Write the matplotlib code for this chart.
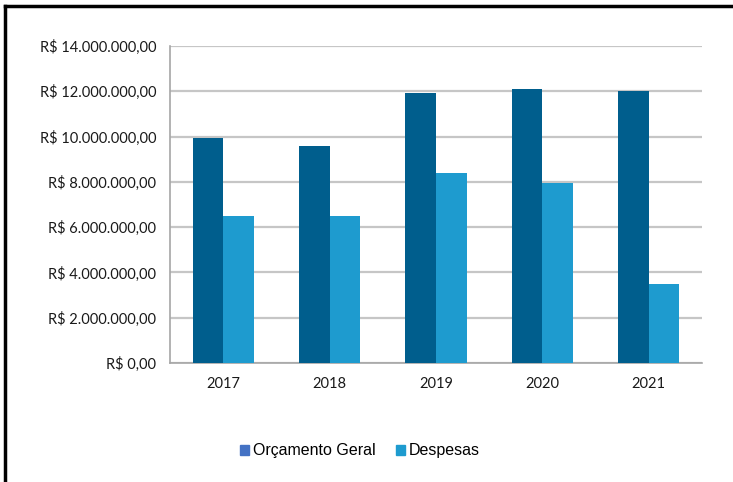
import matplotlib
matplotlib.use("Agg")
import matplotlib.pyplot as plt
import numpy as np
from matplotlib.patches import Patch
from matplotlib.lines import Line2D
from matplotlib.ticker import FuncFormatter

years = ['2017', '2018', '2019', '2020', '2021']
orcamento = [9930000, 9580000, 11920000, 12100000, 12010000]
despesas = [6490000, 6500000, 8400000, 7950000, 3490000]

c_orc = '#005E8D'
c_desp = '#1E9BCF'
c_orc_leg = '#4472C4'  # legend swatch differs from the bar in the original

def brl(v, pos):
    s = f"{v:,.2f}"  # 14,000,000.00
    s = s.replace(',', 'X').replace('.', ',').replace('X', '.')
    return "R$ " + s

fig = plt.figure(figsize=(7.33, 4.82), dpi=100)
ax = fig.add_axes([170/733, 1-363/482, 532/733, 317/482])

x = np.arange(len(years))
w = 0.287
ax.bar(x - w/2, orcamento, w, color=c_orc, zorder=3)
ax.bar(x + w/2, despesas, w, color=c_desp, zorder=3)

ax.set_xlim(-0.5, len(years) - 0.5)
ax.set_ylim(0, 14000000)
ax.set_yticks(np.arange(0, 14000001, 2000000))
ax.yaxis.set_major_formatter(FuncFormatter(brl))
ax.set_xticks(x)
ax.set_xticklabels(years)

ax.grid(axis='y', color='#c6c6c6', linewidth=1.6, zorder=0)
for s in ['top', 'right']:
    ax.spines[s].set_visible(False)
for s in ['left', 'bottom']:
    ax.spines[s].set_color('#a6a6a6')
    ax.spines[s].set_linewidth(1.2)
ax.tick_params(length=0, labelsize=10.5, colors='#1a1a1a')
ax.tick_params(axis='y', pad=10)
ax.tick_params(axis='x', pad=10)
for lab in ax.get_xticklabels() + ax.get_yticklabels():
    lab.set_family('Lato')

handles = [Patch(color=c_orc_leg, label='Orçamento Geral'),
           Patch(color=c_desp, label='Despesas')]
fig.legend(handles=handles, loc='center', bbox_to_anchor=(360/733, 1-451/482),
           ncol=2, frameon=False, handlelength=0.55, handleheight=0.55,
           handletextpad=0.25, columnspacing=1.3,
           prop={'family': 'Liberation Sans', 'size': 11.5})

# outer frame (top and left only are visible)
fig.add_artist(Line2D([5/733, 1], [1-5.5/482, 1-5.5/482], color='black', linewidth=2.5,
                      transform=fig.transFigure))
fig.add_artist(Line2D([5/733, 5/733], [0, 1-5.5/482], color='black', linewidth=2.5,
                      transform=fig.transFigure))

fig.savefig('out.png', dpi=100)
